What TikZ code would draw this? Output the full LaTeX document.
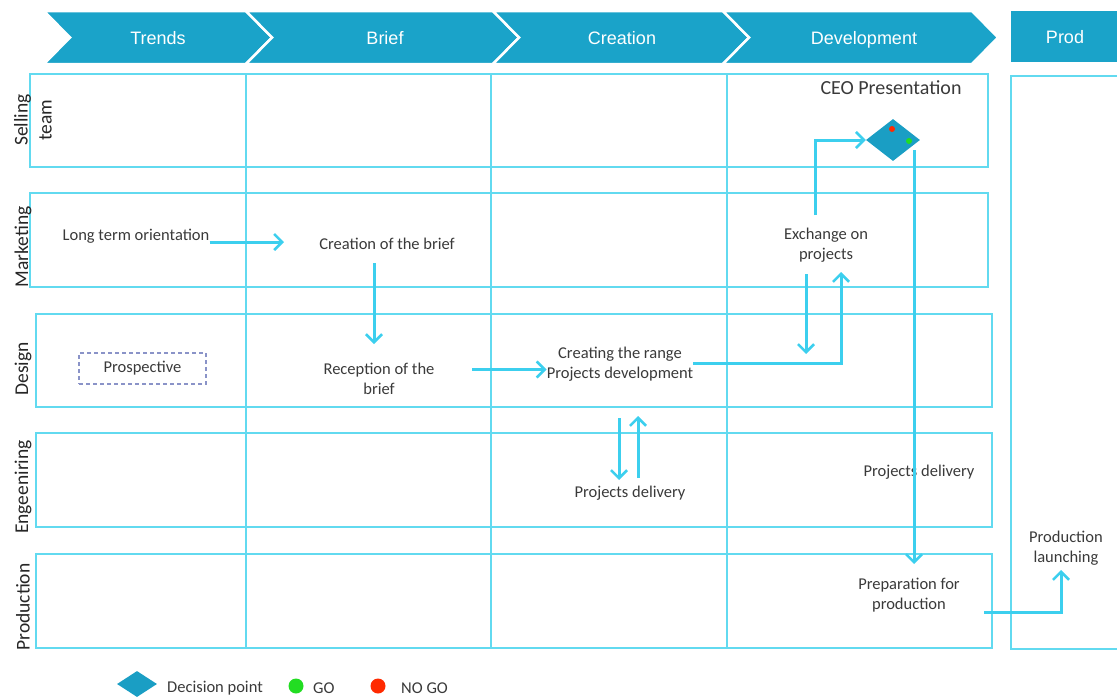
\documentclass[tikz,border=0pt]{standalone}
\usepackage{fontspec}
\setmainfont{Carlito}
\newfontfamily\hdrfont{Liberation Sans}
\usetikzlibrary{shapes.geometric,arrows.meta}
\definecolor{hdrC}{HTML}{1AA3C9}
\definecolor{diaC}{HTML}{1A9EC4}
\definecolor{laneC}{HTML}{62DAF0}
\definecolor{arrC}{HTML}{3CCFEE}
\definecolor{dashC}{HTML}{8A93C8}
\definecolor{txtC}{HTML}{3A3A3A}
\definecolor{goC}{HTML}{22DD22}
\definecolor{nogoC}{HTML}{FF2A00}
\begin{document}
\begin{tikzpicture}[x=1pt,y=-1pt,
  lane/.style={draw=laneC, line width=1.4pt},
  arr/.style={draw=arrC, line width=3pt, -{Straight Barb[length=8pt,width=16pt,line width=2.6pt]}},
  txt/.style={inner sep=0pt, text=txtC, font=\fontsize{16.5}{20}\selectfont, align=center},
  lbl/.style={rotate=90, inner sep=0pt, text=black!85, font=\fontsize{19.5}{24}\selectfont, align=center},
  hd/.style={inner sep=0pt, anchor=base, text=white, font=\hdrfont\fontsize{18}{20}\selectfont},
  chev/.style={fill=hdrC, draw=white, line width=2.5pt, line join=miter},
  dot/.style={circle, inner sep=0pt, draw=none}
]
\useasboundingbox (0,0) rectangle (1117,699);

% header chevrons
\path[chev] (44,11) -- (246,11) -- (272,37.5) -- (246,64) -- (44,64) -- (70,37.5) -- cycle;
\path[chev] (246,11) -- (493,11) -- (519,37.5) -- (493,64) -- (246,64) -- (272,37.5) -- cycle;
\path[chev] (493,11) -- (723,11) -- (749,37.5) -- (723,64) -- (493,64) -- (519,37.5) -- cycle;
\path[chev] (723,11) -- (972,11) -- (998,37.5) -- (972,64) -- (723,64) -- (749,37.5) -- cycle;
\fill[hdrC] (1011,11) rectangle (1125,62);
\node[hd] (h1) at (158,44.5) {Trends};
\node[hd] (h2) at (385,44.5) {Brief};
\node[hd] (h3) at (622,44.5) {Creation};
\node[hd] (h4) at (864,44.5) {Development};
\node[hd] (h5) at (1065,43.5) {Prod};

% swimlanes
\draw[lane] (30,74) rectangle (988,167);
\draw[lane] (30,193) rectangle (988,287);
\draw[lane] (36,314) rectangle (992,407);
\draw[lane] (36,433) rectangle (992,527);
\draw[lane] (36,554) rectangle (992,648);
\draw[lane] (1011,76) rectangle (1130,649);
\draw[lane] (246,74) -- (246,648);
\draw[lane] (491,74) -- (491,648);
\draw[lane] (727,74) -- (727,648);

% lane labels
\node[lbl] (l1) at (33,120) {Selling\\team};
\node[lbl] (l2) at (23,247) {Marketing};
\node[lbl] (l3) at (23,369) {Design};
\node[lbl] (l4) at (23,487) {Engeeniring};
\node[lbl] (l5) at (23,607) {Production};

% texts
\node[txt] (lto) at (136,236) {Long term orientation};
\node[txt] (cob) at (387,244) {Creation of the brief};
\node[txt] (rob) at (379,379) {Reception of the\\brief};
\node[txt] (crt) at (620,364) {Creating the range\\Projects development};
\node[txt] (pd1) at (630,493) {Projects delivery};
\node[txt] (eop) at (826,245) {Exchange on\\projects};
\node[txt, font=\fontsize{20}{24}\selectfont] (ceo) at (891,88) {CEO Presentation};
\node[txt] (pd2) at (919,472) {Projects delivery};
\node[txt] (pfp) at (909,595) {Preparation for\\production};
\node[txt] (pl) at (1066,548) {Production\\launching};
\node[txt, draw=dashC, line width=1.1pt, dash pattern=on 4pt off 3pt, minimum width=127pt, minimum height=31pt] (prs) at (142.5,368.5) {Prospective};

% decision point
\node[diamond, fill=diaC, minimum width=54pt, minimum height=42pt, inner sep=0pt] (dia) at (893,140) {};
\node[dot, fill=nogoC, minimum size=6pt] (dnogo) at (892,129) {};
\node[dot, fill=goC, minimum size=6pt] (dgo) at (909,141) {};

% connector points
\coordinate (a1e) at (284,242);
\coordinate (a2s) at (374,263);
\coordinate (a2e) at (374,344);
\coordinate (a3s) at (472,369.5);
\coordinate (a4c) at (841,363);
\coordinate (a4e) at (841,272);
\coordinate (a5s) at (806,274);
\coordinate (a5e) at (806,354);
\coordinate (a6s) at (815,215);
\coordinate (a7s) at (914,150);
\coordinate (a7e) at (914,564);
\coordinate (a8s) at (984,612);
\coordinate (a8e) at (1061,570);
\coordinate (a9s) at (619,418);
\coordinate (a9e) at (619,480);
\coordinate (a10s) at (638,478);
\coordinate (a10e) at (638,416);

% connectors
\draw[arr] (lto.east |- a1e) -- (a1e);
\draw[arr] (a2s) -- (a2e);
\draw[arr] (a3s) -- (crt.west |- a3s);
\draw[arr] (crt.east |- a4c) -- (a4c) -- (a4e);
\draw[arr] (a5s) -- (a5e);
\draw[arr] (a6s) |- (dia.west);
\draw[arr] (a7s) -- (a7e);
\draw[arr] (a8s) -| (a8e);
\draw[arr] (a9s) -- (a9e);
\draw[arr] (a10s) -- (a10e);

% legend
\node[diamond, fill=diaC, minimum width=40pt, minimum height=26pt, inner sep=0pt] (ldia) at (137,684) {};
\node[txt, anchor=west] (ldt) at (167,688) {Decision point};
\node[dot, fill=goC, minimum size=15pt] (lgo) at (296,686) {};
\node[txt, anchor=west] (lgot) at (313,688) {GO};
\node[dot, fill=nogoC, minimum size=15pt] (lno) at (378,686) {};
\node[txt, anchor=west] (lnot) at (401,688) {NO GO};
\end{tikzpicture}
\end{document}
